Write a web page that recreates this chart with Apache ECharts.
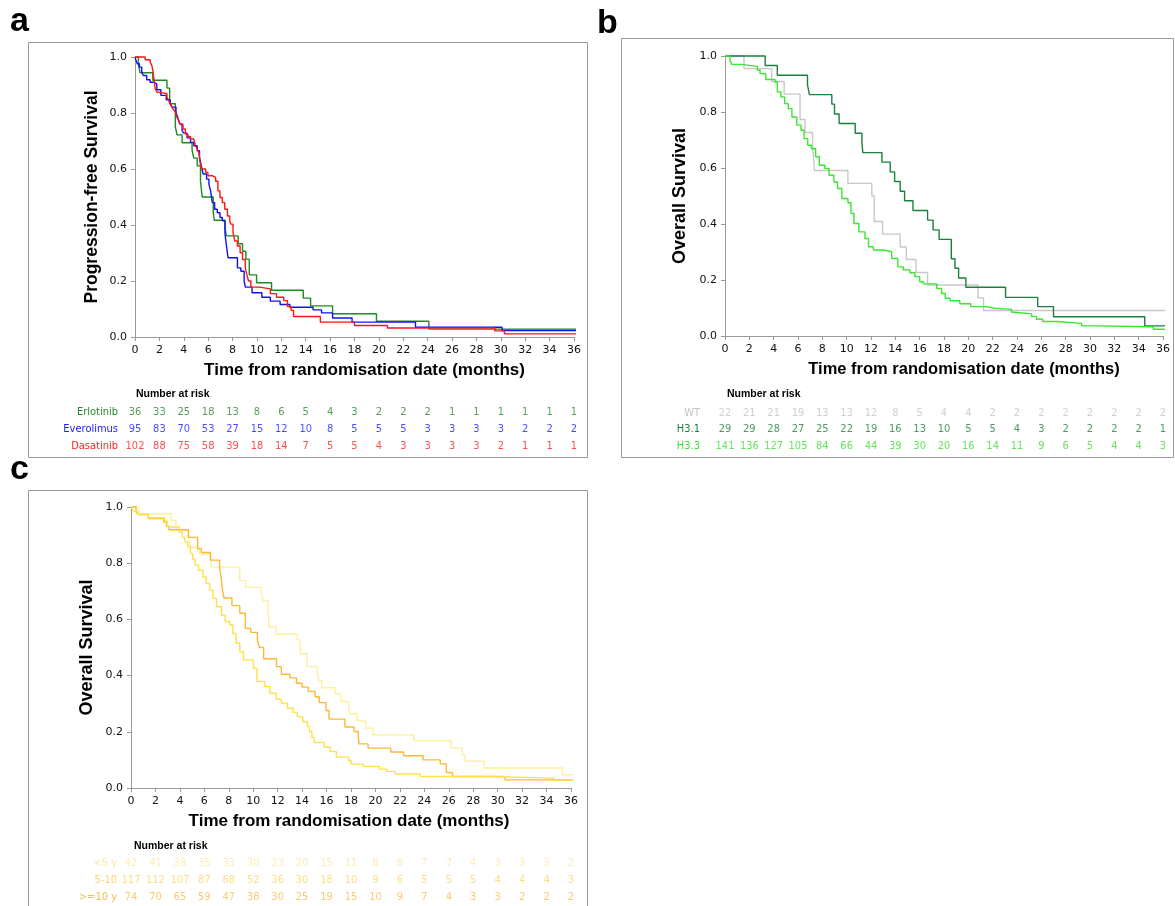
<!DOCTYPE html>
<html>
<head>
<meta charset="utf-8">
<script src="https://cdn.jsdelivr.net/npm/echarts@6.0.0/dist/echarts.min.js"></script>
<style>html,body{margin:0;padding:0;background:#fff}#chart{width:1175px;height:906px}</style>
</head>
<body>
<div id="chart"></div>
<script>
// ---------- data ----------
const riskMonths = [0,2,4,6,8,10,12,14,16,18,20,22,24,26,28,30,32,34,36];

// Panel a
const rowsA = ['Erlotinib','Everolimus','Dasatinib'];
const riskErlotinib = [36,33,25,18,13,8,6,5,4,3,2,2,2,1,1,1,1,1,1];
const riskEverolimus = [95,83,70,53,27,15,12,10,8,5,5,5,3,3,3,3,2,2,2];
const riskDasatinib = [102,88,75,58,39,18,14,7,5,5,4,3,3,3,3,2,1,1,1];
const erlotinibT = [0,0.28,0.41,1.46,2.62,2.84,3.31,3.45,3.86,4.68,4.82,5.1,5.37,5.51,6.42,6.5,7.38,7.5,8.46,8.82,9.09,9.37,9.97,11.2,13.8,14.4,16.2,19.8,24.1,36.3];
const erlotinibS = [1,0.972,0.944,0.917,0.889,0.833,0.75,0.722,0.694,0.667,0.639,0.611,0.556,0.5,0.444,0.417,0.389,0.361,0.333,0.306,0.278,0.222,0.194,0.167,0.139,0.111,0.083,0.056,0.028,0.028];
const everolimusT = [0,0.08,0.19,0.36,0.55,0.69,0.96,1.24,1.52,1.79,2.12,2.56,2.89,3.03,3.36,3.5,3.66,3.86,3.99,4.27,4.55,4.82,5.1,5.29,5.43,5.59,5.87,6.06,6.2,6.34,6.53,6.75,6.97,7.16,7.38,7.52,7.63,8.4,8.68,8.95,9.05,9.6,10.4,11.1,11.9,12.7,14.6,15.3,16.2,17.8,23.0,30.1,36.3];
const everolimusS = [1,0.988,0.976,0.964,0.946,0.934,0.919,0.91,0.904,0.883,0.863,0.847,0.833,0.821,0.803,0.785,0.761,0.737,0.728,0.711,0.695,0.683,0.665,0.642,0.612,0.582,0.564,0.546,0.522,0.48,0.456,0.444,0.427,0.415,0.367,0.319,0.283,0.247,0.235,0.2,0.178,0.158,0.142,0.128,0.116,0.106,0.097,0.086,0.068,0.053,0.035,0.023,0.023];
const dasatinibT = [0,0.83,1.24,1.38,1.46,1.57,1.65,1.79,1.93,2.62,2.75,2.89,3.03,3.17,3.31,3.44,3.58,3.72,3.94,4.13,4.33,4.55,4.82,4.96,5.1,5.23,5.37,5.51,5.79,5.98,6.34,6.61,6.8,6.97,7.16,7.36,7.58,7.77,7.85,8.04,8.18,8.4,8.62,8.82,9.04,9.17,9.31,9.5,10.2,11.1,11.6,12.2,12.5,12.8,13.0,15.2,18.0,20.7,29.5,30.3,36.3];
const dasatinibS = [1,0.99,0.982,0.97,0.952,0.916,0.887,0.875,0.869,0.857,0.845,0.833,0.821,0.811,0.803,0.785,0.773,0.759,0.743,0.725,0.716,0.707,0.701,0.683,0.671,0.66,0.612,0.6,0.588,0.576,0.57,0.556,0.522,0.498,0.48,0.456,0.432,0.415,0.403,0.373,0.343,0.325,0.301,0.277,0.247,0.223,0.2,0.178,0.172,0.155,0.142,0.13,0.109,0.095,0.073,0.053,0.041,0.032,0.022,0.011,0.011];

// Panel b
const rowsB = ['WT','H3.1','H3.3'];
const riskWT = [22,21,21,19,13,13,12,8,5,4,4,2,2,2,2,2,2,2,2];
const riskH31 = [29,29,28,27,25,22,19,16,13,10,5,5,4,3,2,2,2,2,1];
const riskH33 = [141,136,127,105,84,66,44,39,30,20,16,14,11,9,6,5,4,4,3];
const wtT = [0,1.56,3.84,4.86,6.17,6.58,7.2,7.35,10.1,12.07,12.26,12.95,14.4,14.9,15.7,16.65,20.8,21.25,36.25];
const wtS = [1,0.955,0.909,0.864,0.773,0.727,0.682,0.591,0.545,0.5,0.409,0.364,0.318,0.273,0.227,0.182,0.136,0.091,0.091];
const h31T = [0,3.3,4.3,6.78,6.94,8.78,9.0,9.38,10.7,11.25,11.33,12.9,13.58,13.94,14.4,14.76,15.45,16.65,17.1,17.6,18.6,18.9,19.2,19.8,23.06,25.7,27.0,34.5,36.25];
const h31S = [1,0.966,0.931,0.897,0.862,0.828,0.793,0.759,0.724,0.69,0.655,0.621,0.586,0.552,0.517,0.483,0.448,0.414,0.379,0.345,0.276,0.242,0.207,0.174,0.138,0.105,0.069,0.036,0.036];
const h33T = [0,0.41,0.55,1.37,2.66,2.88,3.35,4.12,4.3,4.6,4.9,5.2,5.5,5.9,6.25,6.5,6.8,7.1,7.45,7.75,8.2,8.55,8.95,9.25,9.6,10.1,10.35,10.6,11.0,11.5,11.8,12.2,13.0,13.7,14.2,14.65,15.2,15.6,16.0,16.3,17.4,17.8,18.1,18.5,19.3,20.2,21.4,22.2,23.55,23.8,25.2,25.6,26.1,27.3,29.3,30.5,35.2,36.25];
const h33S = [1,0.985,0.97,0.963,0.949,0.937,0.916,0.907,0.872,0.854,0.83,0.812,0.782,0.753,0.735,0.705,0.681,0.669,0.64,0.61,0.598,0.574,0.55,0.527,0.491,0.476,0.438,0.402,0.372,0.348,0.319,0.307,0.301,0.277,0.247,0.236,0.226,0.212,0.194,0.186,0.17,0.152,0.135,0.126,0.115,0.105,0.099,0.095,0.085,0.079,0.07,0.06,0.052,0.045,0.036,0.033,0.024,0.024];

// Panel c
const rowsC = ['<5 y','5-10','>=10 y'];
const riskU5 = [42,41,38,35,33,30,23,20,15,11,8,8,7,7,4,3,3,3,2];
const risk510 = [117,112,107,87,68,52,36,30,18,10,9,6,5,5,5,4,4,4,3];
const riskO10 = [74,70,65,59,47,38,30,25,19,15,10,9,7,4,3,3,2,2,2];
const u5T = [0,0.63,3.28,3.69,3.85,4.7,4.85,5.6,6.55,8.9,9.4,10.67,10.8,11.2,11.3,11.9,13.6,13.85,14.4,15.25,15.4,15.6,16.7,17.16,17.8,17.9,18.5,19.2,19.8,23.16,26.2,27.1,27.3,28.9,35.3,36.25];
const u5S = [1,0.976,0.952,0.929,0.917,0.893,0.857,0.833,0.786,0.738,0.714,0.69,0.667,0.645,0.574,0.548,0.527,0.477,0.432,0.402,0.382,0.357,0.335,0.308,0.284,0.264,0.239,0.213,0.189,0.168,0.142,0.118,0.095,0.071,0.047,0.047];
const o10T = [0,0.41,0.55,1.42,2.68,2.9,3.1,4.7,5.45,5.75,6.5,7.25,7.35,7.45,7.6,8.26,8.9,9.35,9.8,10.34,10.5,10.85,11.9,12.3,13.0,13.54,14.0,14.5,15.06,15.4,15.96,16.2,17.5,18.25,18.6,18.65,19.4,21.25,22.3,23.9,25.3,25.8,26.3,30.6,36.25];
const o10S = [1,0.986,0.973,0.959,0.946,0.932,0.919,0.892,0.851,0.838,0.811,0.784,0.757,0.716,0.676,0.649,0.622,0.568,0.554,0.527,0.5,0.46,0.432,0.405,0.392,0.373,0.359,0.344,0.325,0.304,0.276,0.245,0.217,0.201,0.183,0.157,0.142,0.128,0.115,0.1,0.086,0.055,0.041,0.029,0.029];
const y510T = [0,0.15,0.3,0.55,1.42,2.74,2.95,3.97,4.2,4.4,4.65,4.87,5.06,5.25,5.53,5.88,6.15,6.43,6.7,7.0,7.4,7.7,8.07,8.34,8.6,8.9,9.2,10.0,10.3,10.94,11.35,11.9,12.3,12.8,13.27,13.6,14.05,14.43,14.6,14.8,14.98,15.8,16.3,16.8,17.8,18.0,19.0,20.3,20.9,21.6,23.65,29.5,34.6,36.25];
const y510S = [1,0.991,0.983,0.974,0.962,0.95,0.929,0.911,0.891,0.876,0.858,0.834,0.813,0.793,0.775,0.751,0.728,0.704,0.675,0.645,0.615,0.592,0.58,0.55,0.515,0.485,0.456,0.426,0.379,0.361,0.337,0.316,0.302,0.284,0.269,0.254,0.236,0.219,0.201,0.18,0.162,0.145,0.13,0.11,0.098,0.085,0.077,0.067,0.059,0.05,0.041,0.035,0.027,0.027];

// ---------- styling ----------
const tickFont = "'DejaVu Sans', sans-serif";
const titleFont = "'Liberation Sans', Arial, sans-serif";
const tableFont = "'DejaVu Sans Condensed', 'Liberation Sans Narrow', 'DejaVu Sans', sans-serif";
const axisGray = '#999999';

const colA = {Erlotinib:'#1f8a1f', Everolimus:'#1010ff', Dasatinib:'#ff1414'};
const colB = {'WT':'#c8c8c8', 'H3.1':'#1b7f3f', 'H3.3':'#39e632'};
const colC = {'<5 y':'#fff09a', '5-10':'#ffe14a', '>=10 y':'#fdb838'};
const txtA = {Erlotinib:'#2a8a2a', Everolimus:'#1a1aff', Dasatinib:'#ff2020'};
const txtB = {'WT':'#c4c4c4', 'H3.1':'#1f8040', 'H3.3':'#3ddc34'};
const txtC = {'<5 y':'#fde7a4', '5-10':'#fdd468', '>=10 y':'#fbbd4a'};

const xTitle = 'Time from randomisation date (months)';

function steps(T,S){ return T.map((t,i)=>[t,S[i]]); }
function km(name,T,S,color,gi){
  return {type:'line', name, xAxisIndex:gi, yAxisIndex:gi, data:steps(T,S), step:'end',
    showSymbol:false, symbol:'none', clip:false, silent:true, animation:false,
    lineStyle:{color, width:1.4}};
}
function risk(row,values,color,gi){
  return {type:'scatter', xAxisIndex:gi, yAxisIndex:gi, symbolSize:1, silent:true, animation:false,
    itemStyle:{color:'rgba(0,0,0,0)'},
    data: riskMonths.map((m,i)=>[m,row,values[i]]),
    label:{show:true, position:'inside', formatter:p=>String(p.value[2]), color, fontSize:11, fontFamily:tableFont}};
}
function plotX(gi,size,shift){
  return {gridIndex:gi, type:'value', min:0, max:36, interval:2,
    name:xTitle, nameLocation:'middle', nameGap:25,
    nameTextStyle:{fontFamily:titleFont, fontWeight:'bold', fontSize:size, color:'#000',
      padding: shift >= 0 ? [0,0,0,shift] : [0,-shift,0,0]},
    axisLine:{show:true, onZero:false, lineStyle:{color:axisGray, width:1}},
    axisTick:{show:true, length:4, lineStyle:{color:axisGray}},
    axisLabel:{fontFamily:tickFont, fontSize:11, color:'#111', margin:8},
    splitLine:{show:false}};
}
function plotY(gi,name,gap,size){
  return {gridIndex:gi, type:'value', min:0, max:1, interval:0.2,
    name, nameLocation:'middle', nameGap:gap,
    nameTextStyle:{fontFamily:titleFont, fontWeight:'bold', fontSize:size, color:'#000'},
    axisLine:{show:true, lineStyle:{color:axisGray, width:1}},
    axisTick:{show:true, length:4, lineStyle:{color:axisGray}},
    axisLabel:{fontFamily:tickFont, fontSize:11, color:'#111', margin:8, formatter:v=>v.toFixed(1)},
    splitLine:{show:false}};
}
function tableX(gi){ return {gridIndex:gi, type:'value', min:0, max:36, show:false}; }
function tableY(gi,rows,cmap,margin){
  return {gridIndex:gi, type:'category', data:rows, inverse:true,
    axisLine:{show:false}, axisTick:{show:false}, splitLine:{show:false},
    axisLabel:{margin, fontSize:11, fontFamily:tableFont, color:(v)=>cmap[v]}};
}

const option = {
  backgroundColor:'#ffffff',
  animation:false,
  grid:[
    {left:135, top:57, width:439, height:280, outerBoundsMode:'none'},
    {left:725, top:56, width:438, height:280, outerBoundsMode:'none'},
    {left:131, top:507, width:440, height:281, outerBoundsMode:'none'},
    {left:135, top:403.5, width:439, height:51, outerBoundsMode:'none'},
    {left:725, top:404.5, width:438, height:50, outerBoundsMode:'none'},
    {left:131, top:855, width:440, height:50, outerBoundsMode:'none'}
  ],
  xAxis:[plotX(0,17,20), plotX(1,16.5,40), plotX(2,17,-4), tableX(3), tableX(4), tableX(5)],
  yAxis:[
    plotY(0,'Progression-free Survival',34,17.5),
    plotY(1,'Overall Survival',36,18),
    plotY(2,'Overall Survival',35,18),
    tableY(3,rowsA,txtA,17),
    tableY(4,rowsB,txtB,25),
    tableY(5,rowsC,txtC,14)
  ],
  graphic:[
    {type:'rect', shape:{x:28.5, y:42.5, width:559, height:415}, style:{fill:'none', stroke:axisGray, lineWidth:1}, silent:true},
    {type:'rect', shape:{x:621.5, y:38.5, width:552, height:419}, style:{fill:'none', stroke:axisGray, lineWidth:1}, silent:true},
    {type:'rect', shape:{x:28.5, y:490.5, width:559, height:440}, style:{fill:'none', stroke:axisGray, lineWidth:1}, silent:true},
    {type:'text', style:{text:'a', x:10, y:22, font:"bold 34px 'Liberation Sans', Arial", fill:'#000', verticalAlign:'middle', textVerticalAlign:'middle'}},
    {type:'text', style:{text:'b', x:597, y:23.5, font:"bold 34px 'Liberation Sans', Arial", fill:'#000', verticalAlign:'middle', textVerticalAlign:'middle'}},
    {type:'text', style:{text:'c', x:10, y:469.5, font:"bold 34px 'Liberation Sans', Arial", fill:'#000', verticalAlign:'middle', textVerticalAlign:'middle'}},
    {type:'text', style:{text:'Number at risk', x:136, y:394.5, font:"bold 10.5px 'Liberation Sans', Arial", fill:'#000', verticalAlign:'middle', textVerticalAlign:'middle'}},
    {type:'text', style:{text:'Number at risk', x:727, y:394.5, font:"bold 10.5px 'Liberation Sans', Arial", fill:'#000', verticalAlign:'middle', textVerticalAlign:'middle'}},
    {type:'text', style:{text:'Number at risk', x:134, y:846.5, font:"bold 10.5px 'Liberation Sans', Arial", fill:'#000', verticalAlign:'middle', textVerticalAlign:'middle'}}
  ],
  series:[
    km('Erlotinib', erlotinibT, erlotinibS, colA.Erlotinib, 0),
    km('Everolimus', everolimusT, everolimusS, colA.Everolimus, 0),
    km('Dasatinib', dasatinibT, dasatinibS, colA.Dasatinib, 0),
    km('WT', wtT, wtS, colB['WT'], 1),
    km('H3.1', h31T, h31S, colB['H3.1'], 1),
    km('H3.3', h33T, h33S, colB['H3.3'], 1),
    km('<5 y', u5T, u5S, colC['<5 y'], 2),
    km('>=10 y', o10T, o10S, colC['>=10 y'], 2),
    km('5-10', y510T, y510S, colC['5-10'], 2),
    risk('Erlotinib', riskErlotinib, txtA.Erlotinib, 3),
    risk('Everolimus', riskEverolimus, txtA.Everolimus, 3),
    risk('Dasatinib', riskDasatinib, txtA.Dasatinib, 3),
    risk('WT', riskWT, txtB['WT'], 4),
    risk('H3.1', riskH31, txtB['H3.1'], 4),
    risk('H3.3', riskH33, txtB['H3.3'], 4),
    risk('<5 y', riskU5, txtC['<5 y'], 5),
    risk('5-10', risk510, txtC['5-10'], 5),
    risk('>=10 y', riskO10, txtC['>=10 y'], 5)
  ]
};

const chart = echarts.init(document.getElementById('chart'), null, {renderer:'canvas'});
chart.setOption(option);
</script>
</body>
</html>
